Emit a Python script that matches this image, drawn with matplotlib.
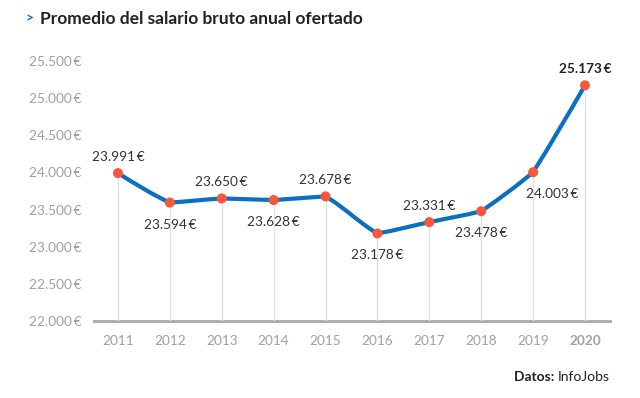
import matplotlib
matplotlib.use("Agg")
import matplotlib.pyplot as plt
from matplotlib.path import Path
from matplotlib.patches import PathPatch
import numpy as np

years = [2011, 2012, 2013, 2014, 2015, 2016, 2017, 2018, 2019, 2020]
salaries = [23991, 23594, 23650, 23628, 23678, 23178, 23331, 23478, 24003, 25173]
label_above = [True, False, True, False, True, False, True, False, False, True]
y_ticks = [22000, 22500, 23000, 23500, 24000, 24500, 25000, 25500]

FONT = ['Lato', 'DejaVu Sans']
plt.rcParams['font.family'] = FONT

BLUE = '#0b6fc4'
DOT = '#f5583a'
GREY = '#a0a0a0'


def euro(v):
    return f"{v:,}".replace(",", ".") + "\u2009€"


def soft_path(xs, ys, tension=0.2):
    # slightly rounded line: monotone cubic tangents, damped
    xs = np.asarray(xs, float)
    ys = np.asarray(ys, float)
    n = len(xs)
    h = np.diff(xs)
    s = np.diff(ys) / h
    t = np.zeros(n)
    for i in range(1, n - 1):
        p = (s[i - 1] * h[i] + s[i] * h[i - 1]) / (h[i - 1] + h[i])
        t[i] = (np.sign(s[i - 1]) + np.sign(s[i])) * min(abs(s[i - 1]), abs(s[i]), 0.5 * abs(p))
    t[0] = (3 * s[0] - t[1]) / 2
    t[-1] = (3 * s[-1] - t[-2]) / 2
    verts = [(xs[0], ys[0])]
    codes = [Path.MOVETO]
    for i in range(n - 1):
        dx = h[i] / 3
        t0 = s[i] + tension * (t[i] - s[i])
        t1 = s[i] + tension * (t[i + 1] - s[i])
        verts += [(xs[i] + dx, ys[i] + dx * t0),
                  (xs[i + 1] - dx, ys[i + 1] - dx * t1),
                  (xs[i + 1], ys[i + 1])]
        codes += [Path.CURVE4] * 3
    return Path(verts, codes)


fig = plt.figure(figsize=(6.4, 3.98), dpi=100)
ax = fig.add_axes([0.147, 0.1935, 0.806, 0.6532])

for x, y in zip(years, salaries):
    ax.plot([x, x], [22000, y], color='#e2e2e2', lw=1, zorder=1)

ax.add_patch(PathPatch(soft_path(years, salaries), facecolor='none',
                       edgecolor=BLUE, lw=3, zorder=2, capstyle='round', joinstyle='round'))
ax.scatter(years, salaries, s=52, color=DOT, zorder=3, edgecolors='none')

for i, (x, y) in enumerate(zip(years, salaries)):
    last = i == len(years) - 1
    if label_above[i]:
        ax.annotate(euro(y), (x, y), xytext=(0, 7.5), textcoords='offset points',
                    ha='center', va='bottom', fontsize=9.8, color='#222' if last else '#333',
                    fontweight='bold' if last else 'normal')
    else:
        dx = 14 if i == 8 else 0
        ax.annotate(euro(y), (x, y), xytext=(dx, -11.5), textcoords='offset points',
                    ha='center', va='top', fontsize=9.8, color='#333')

ax.set_xlim(2010.54, 2020.48)
ax.set_ylim(22000, 25500)
ax.set_yticks(y_ticks)
ax.set_yticklabels([euro(v) for v in y_ticks])
ax.set_xticks(years)
ax.set_xticklabels([str(y) for y in years])
for lbl in ax.get_xticklabels():
    if lbl.get_text() == '2020':
        lbl.set_fontweight('bold')
        lbl.set_color('#8a8a8a')

ax.tick_params(axis='both', length=0, colors=GREY, labelsize=9.8)
ax.tick_params(axis='x', pad=10)
ax.tick_params(axis='y', pad=9)
for side in ['top', 'right', 'left']:
    ax.spines[side].set_visible(False)
ax.spines['bottom'].set_color('#a8a8a8')
ax.spines['bottom'].set_linewidth(2)
ax.spines['bottom'].set_zorder(0)

fig.text(0.040, 0.953, '>', color=BLUE, fontsize=10, fontweight='bold', va='center')
fig.text(0.063, 0.953, 'Promedio del salario bruto anual ofertado', color='#222',
         fontsize=12.5, fontweight='bold', va='center')

src = fig.text(0.953, 0.053, 'InfoJobs', color='#222', fontsize=10, ha='right', va='center')
ax.annotate('Datos: ', xy=(0, 0.5), xycoords=src, ha='right', va='center',
            color='#222', fontsize=10, fontweight='bold', annotation_clip=False)

fig.savefig('out.png', dpi=100)
